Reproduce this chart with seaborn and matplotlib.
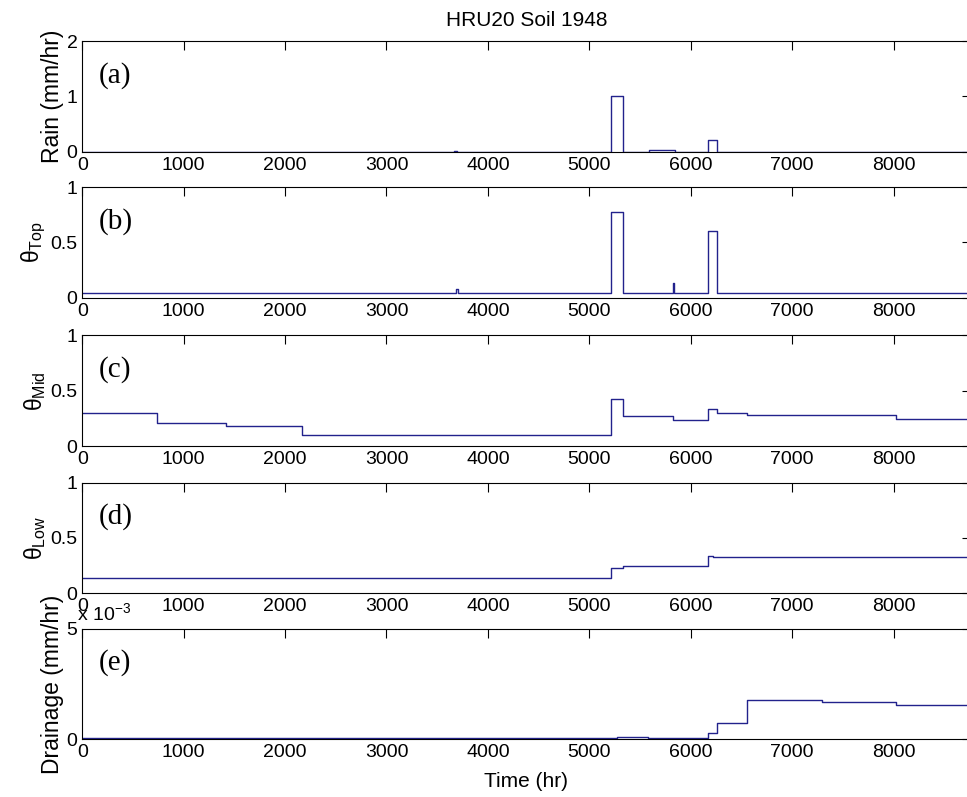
import numpy as np
import pandas as pd
import seaborn as sns
import matplotlib
matplotlib.use("Agg")
import matplotlib.pyplot as plt

# step series: value holds from each time until the next one
rain_t = [0, 3670, 3700, 5214, 5335, 5592, 5845, 6168, 6260, 8760]
rain_v = [0, 0.01, 0, 1.0, 0, 0.025, 0, 0.205, 0, 0]

top_t = [0, 3690, 3710, 5214, 5335, 5825, 5840, 6168, 6260, 8760]
top_v = [0.045, 0.075, 0.045, 0.77, 0.045, 0.135, 0.045, 0.60, 0.045, 0.045]

mid_t = [0, 734, 1417, 2164, 5214, 5335, 5830, 6170, 6260, 6558, 8022, 8760]
mid_v = [0.295, 0.205, 0.18, 0.10, 0.425, 0.275, 0.238, 0.335, 0.30, 0.277, 0.247, 0.247]

low_t = [0, 5210, 5330, 6167, 6222, 8760]
low_v = [0.137, 0.227, 0.245, 0.34, 0.329, 0.329]

# drainage in units of 1e-3 mm/hr
drain_t = [0, 5270, 5582, 6167, 6256, 6552, 7298, 8025, 8760]
drain_v = [0.04, 0.1, 0.04, 0.3, 0.74, 1.76, 1.69, 1.57, 1.57]

panels = ["(a)", "(b)", "(c)", "(d)", "(e)"]
ylabels = ["Rain (mm/hr)", r"θ$_{\mathrm{Top}}$", r"θ$_{\mathrm{Mid}}$",
           r"θ$_{\mathrm{Low}}$", "Drainage (mm/hr)"]
ylims = [(0, 2), (0, 1), (0, 1), (0, 1), (0, 5)]
yticks = [[0, 1, 2], [0, 0.5, 1], [0, 0.5, 1], [0, 0.5, 1], [0, 5]]
xticks = list(range(0, 9000, 1000))

sns.set_style("white")
plt.rcParams["font.family"] = ["Liberation Sans", "DejaVu Sans"]
plt.rcParams["mathtext.fontset"] = "custom"
plt.rcParams["mathtext.rm"] = "Liberation Sans"
plt.rcParams["mathtext.it"] = "Liberation Sans:italic"
plt.rcParams["text.color"] = "black"
plt.rcParams["axes.labelcolor"] = "black"

fig = plt.figure(figsize=(9.67, 7.97), dpi=100)
bottoms = [0.8097, 0.6265, 0.4404, 0.2556, 0.0724]
series = [(rain_t, rain_v), (top_t, top_v), (mid_t, mid_v),
          (low_t, low_v), (drain_t, drain_v)]
line_col = "#22228c"

axes = []
for i, (t, v) in enumerate(series):
    ax = fig.add_axes([0.0851, bottoms[i], 0.9186, 0.1388])
    df = pd.DataFrame({"t": t, "v": v})
    sns.lineplot(data=df, x="t", y="v", ax=ax, color=line_col, linewidth=1.0,
                 drawstyle="steps-post", estimator=None, sort=False)
    ax.set_xlim(0, 8760)
    ax.set_ylim(*ylims[i])
    ax.set_xticks(xticks)
    ax.set_yticks(yticks[i])
    ax.set_yticklabels([("%g" % y) for y in yticks[i]])
    ax.tick_params(direction="in", length=6.4, width=0.8, top=True, right=True,
                   labelsize=14, pad=3.5, colors="black")
    for s in ax.spines.values():
        s.set_visible(True)
        s.set_color("black")
        s.set_linewidth(0.8)
    ax.set_xlabel("")
    ax.set_ylabel(ylabels[i], fontsize=16.5, labelpad=2)
    ax.text(0.018, 0.69, panels[i], transform=ax.transAxes, va="center",
            ha="left", fontsize=21, family="Liberation Serif")
    axes.append(ax)

axes[0].set_title("HRU20 Soil 1948", fontsize=15, pad=11)
axes[-1].set_xlabel("Time (hr)", fontsize=15, labelpad=8)
axes[-1].text(-0.006, 1.08, r"x 10$^{-3}$", transform=axes[-1].transAxes,
              va="baseline", ha="left", fontsize=14)

fig.savefig("out.png", dpi=100)
